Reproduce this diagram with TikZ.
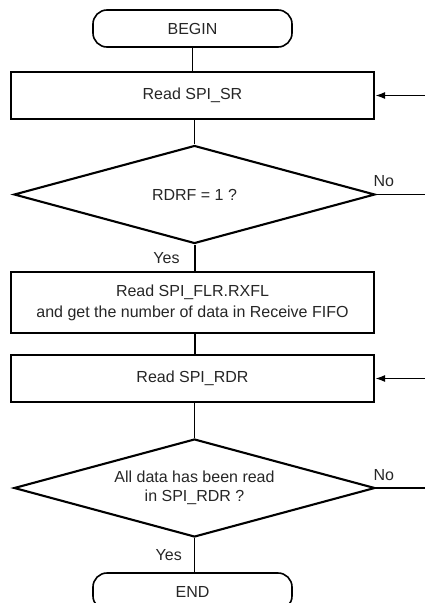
\documentclass[tikz,border=0pt]{standalone}
\usepackage{fontspec}
\setmainfont{Liberation Sans}
\usetikzlibrary{positioning, shapes.geometric, arrows.meta}

\begin{document}
\begin{tikzpicture}[
    x=1pt, y=-1pt,
    font=\fontsize{16}{21}\selectfont, text=black!85,
    process/.style={draw, line width=2.1pt, fill=white, align=center,
                    minimum width=363pt, minimum height=47pt, inner sep=0pt},
    terminal/.style={draw, line width=1.6pt, rounded corners=14pt,
                     minimum width=199pt, minimum height=37pt, inner sep=0pt},
    decision/.style={draw, diamond, line width=2.1pt, align=center, aspect=3.7,
                     minimum width=361pt, minimum height=98pt, inner sep=0pt,
                     font=\fontsize{16}{18.5}\selectfont},
    flow/.style={line width=1.5pt},
    entry/.style={line width=1.7pt, -{Latex[length=10pt, width=7pt]}},
    lbl/.style={font=\fontsize{16}{18}\selectfont, inner sep=0pt},
  ]
  \useasboundingbox (0,0) rectangle (425,603);
  \clip (0,0) rectangle (425,603);

  % ---------------- Steps ----------------
  \node[terminal] (begin) at (192.5, 28.5)  {BEGIN};
  \node[process]  (sr)    at (192.5, 95.5)  {Read SPI\_SR};
  \node[decision] (rdrf)  at (194.5, 194.5) {RDRF = 1 ?};
  \node[process, minimum height=61pt] (flr) at (192.5, 302.5)
       {Read SPI\_FLR.RXFL\\and get the number of data in Receive FIFO};
  \node[process]  (rdr)   at (192.5, 378.5) {Read SPI\_RDR};
  \node[decision] (done)  at (194.5, 488)   {All data has been read\\in SPI\_RDR ?};
  \node[terminal] (end)   at (192.5, 591.5) {END};

  % ---------------- Loose ends at the right ----------------
  \coordinate (in1)  at (425, 95.5);
  \coordinate (out1) at (425, 194.5);
  \coordinate (in2)  at (425, 378.5);
  \coordinate (out2) at (425, 488);

  % ---------------- Connections ----------------
  \draw[flow, line width=1.1pt] (begin.south) -- (begin.south |- sr.north);
  \draw[flow] (rdrf.north |- sr.south) -- (rdrf.north);
  \draw[flow, line width=2pt] (rdrf.south) --
       node[lbl, anchor=east, xshift=-14pt] {Yes} (rdrf.south |- flr.north);
  \draw[flow, line width=2pt] (rdrf.south |- flr.south) -- (rdrf.south |- rdr.north);
  \draw[flow] (done.north |- rdr.south) -- (done.north);
  \draw[flow] (done.south) --
       node[lbl, anchor=east, xshift=-12pt] {Yes} (done.south |- end.north);

  \draw[flow] (rdrf.east) -- node[lbl, above=7pt, pos=0.16] {No} (out1);
  \draw[flow] (done.east) -- node[lbl, above=7pt, pos=0.16] {No} (out2);
  \draw[entry] (in1) -- (sr.east);
  \draw[entry] (in2) -- (rdr.east);
\end{tikzpicture}
\end{document}
